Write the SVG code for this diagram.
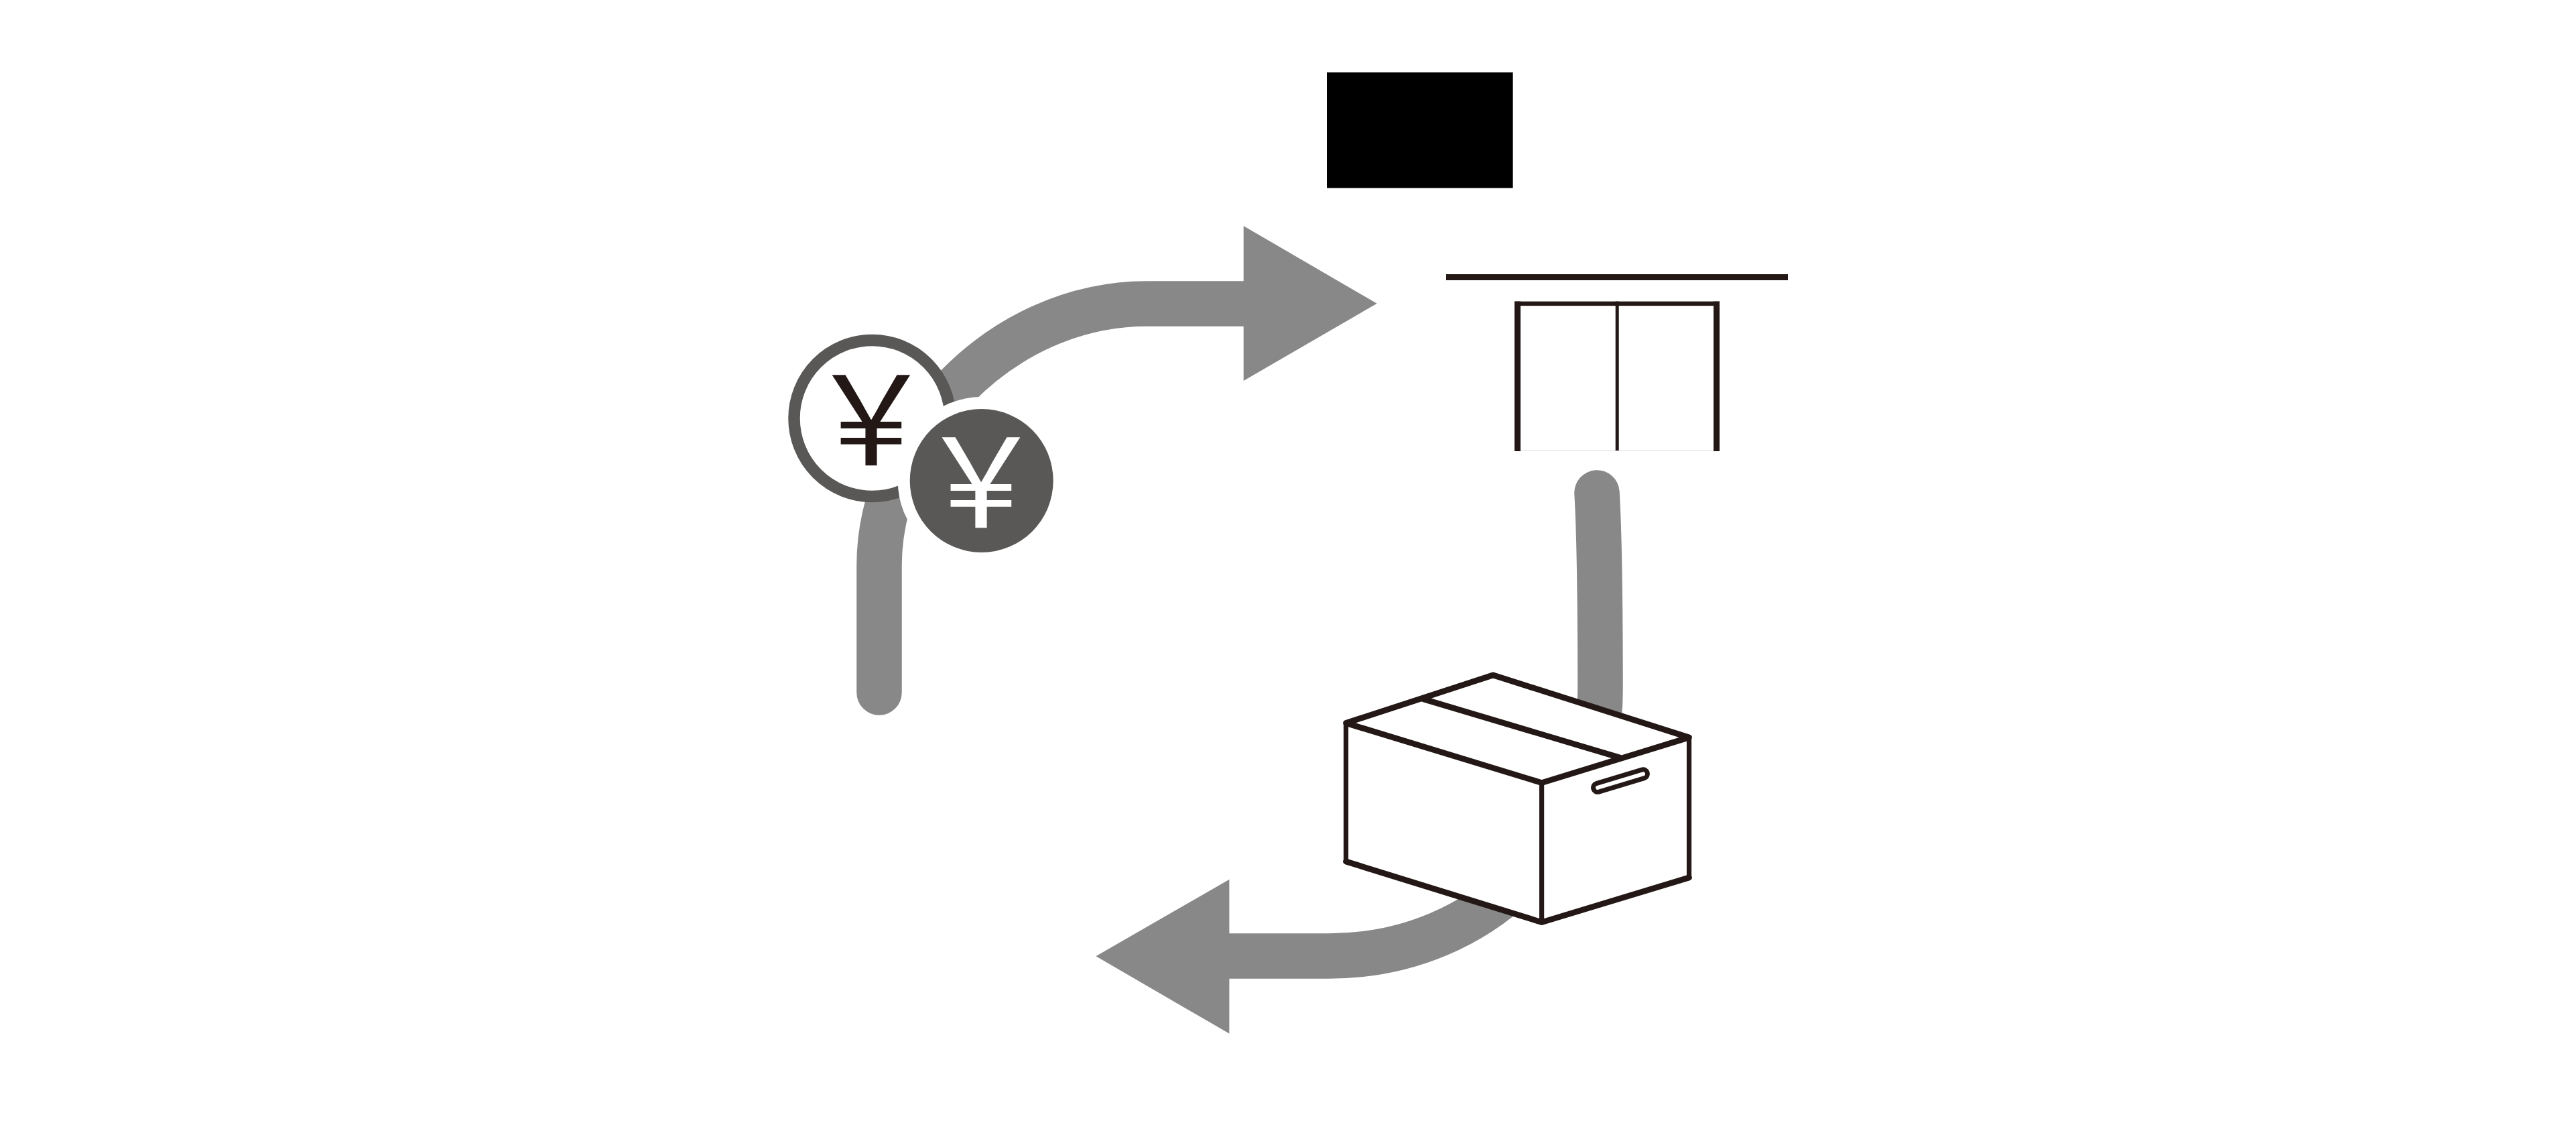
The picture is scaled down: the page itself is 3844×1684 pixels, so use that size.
<svg xmlns="http://www.w3.org/2000/svg" width="3844" height="1684" viewBox="0 0 3844 1684">
<style>
.flow{fill:none;stroke:#888888;stroke-width:67.5;stroke-linecap:round}
.head{fill:#888888}
.ink{fill:#231815}
.face{fill:#ffffff;stroke:none}
.slant{fill:none;stroke:#231815;stroke-width:8.800;stroke-linejoin:round;stroke-linecap:round}
.post{fill:none;stroke:#231815;stroke-width:7.200;stroke-linecap:round}
.yen{font-family:"Noto Sans CJK JP","Liberation Sans",sans-serif;font-size:186px;text-anchor:middle}
</style>
<rect width="3844" height="1684" fill="#ffffff"/>
<g id="connectors">
<path class="flow" d="M1312 1033V843C1312 650 1490 453 1712 453H1856"/>
<polygon class="head" points="1855.700,337 2054.700,452.700 1855.700,568"/>
<path class="flow" d="M2383 735Q2388 820 2388 1030C2388 1240 2220 1426 1983 1426H1834"/>
<polygon class="head" points="1834.400,1311.700 1635.400,1426.300 1834.400,1541.700"/>
</g>
<g id="node-black-box"><rect x="1980" y="108" width="277.600" height="172.400" fill="#000000"/></g>
<g id="node-store">
<rect class="ink" x="2158" y="409" width="510" height="9"/>
<rect class="ink" x="2260" y="449.600" width="306" height="6.500"/>
<rect class="ink" x="2260" y="449.600" width="9" height="223.400"/>
<rect class="ink" x="2557" y="449.600" width="9" height="223.400"/>
<rect class="ink" x="2410.700" y="449.600" width="5" height="223.400"/>
<rect x="2269" y="672" width="288" height="1" fill="#dddddd"/>
</g>
<g id="node-box">
<path class="face" d="M2008.500 1078.500L2228 1007L2520.500 1100V1309L2300.600 1375.600L2008.500 1285Z"/>
<path class="post" d="M2008.500 1078.500V1285M2300.600 1167.600V1375.600M2520.500 1100V1309"/>
<path class="slant" d="M2008.500 1078.500L2228 1007L2520.500 1100L2300.600 1167.600ZM2008.500 1285L2300.600 1375.600L2520.500 1309M2124 1042.700L2417 1130"/>
<rect x="2376" y="1158" width="84" height="13" rx="6.500" fill="#ffffff" stroke="#231815" stroke-width="7" transform="rotate(-16.800 2418.300 1164.500)"/>
</g>
<g id="node-yen-outline">
<circle cx="1301.500" cy="624" r="116.500" fill="#ffffff" stroke="#595857" stroke-width="17.500"/>
<text class="yen" x="1300" y="694" fill="#231815">&#xFFE5;</text>
</g>
<g id="node-yen-solid">
<circle cx="1464.700" cy="717" r="125" fill="#ffffff"/>
<circle cx="1464.700" cy="717" r="107" fill="#595857"/>
<text class="yen" x="1464" y="787" fill="#ffffff">&#xFFE5;</text>
</g>
</svg>
